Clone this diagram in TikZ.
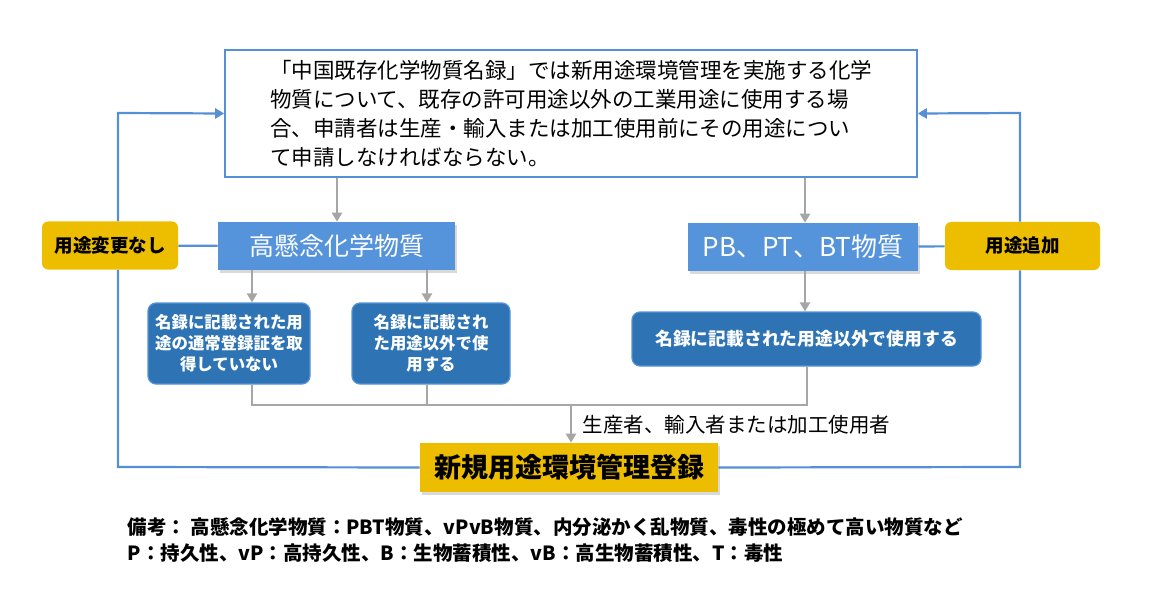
\documentclass[tikz,border=0pt]{standalone}
\usepackage{fontspec}
\setmainfont{Noto Sans CJK JP}
\XeTeXlinebreaklocale "ja"
\usetikzlibrary{positioning,shadows,arrows.meta}
\definecolor{frameblue}{HTML}{5590D6}
\definecolor{lightblue}{HTML}{5593DB}
\definecolor{darkblue}{HTML}{2E74B5}
\definecolor{goldbox}{HTML}{EDBE00}
\definecolor{flowgray}{HTML}{A6A6A6}
\begin{document}
\begin{tikzpicture}[x=1pt,y=-1pt,
    semithick,
    topbox/.style={draw=frameblue,line width=1.6pt,fill=white,
      minimum width=692pt,minimum height=127pt,align=left,font=\fontsize{21.5}{29}\selectfont,inner xsep=11pt},
    headbox/.style={fill=lightblue,text=white,minimum height=48pt,
      font=\fontsize{25}{28}\selectfont,drop shadow={opacity=0.3,shadow xshift=2pt,shadow yshift=-3pt}},
    subbox/.style={fill=darkblue,draw=lightblue,line width=1.2pt,rounded corners=8pt,text=white,
      align=center,font=\bfseries\fontsize{16.4}{21}\selectfont},
    tagbox/.style={fill=goldbox,rounded corners=6pt,minimum height=48pt,font=\bfseries\fontsize{18.5}{22}\selectfont},
    loop/.style={draw=frameblue,line width=2.2pt},
    flow/.style={draw=flowgray,line width=2.6pt},
    tip/.style={-{Triangle[length=9pt,width=10pt]}}
    ]
\useasboundingbox (0,0) rectangle (1159,604);
\node[topbox] (req) at (571,113.5) {「中国既存化学物質名録」では新用途環境管理を実施する化学\\物質について、既存の許可用途以外の工業用途に使用する場\\合、申請者は生産・輸入または加工使用前にその用途につい\\て申請しなければならない。};
\node[headbox,minimum width=237pt] (hc) at (336.5,246) {高懸念化学物質};
\node[headbox,minimum width=230pt,font=\fontsize{26}{28}\selectfont] (pb) at (803,247) {PB、PT、BT物質};
\node[tagbox,minimum width=136pt] (nochg) at (110,245.5) {用途変更なし};
\node[tagbox,minimum width=155pt] (add) at (1022.5,246) {用途追加};
\node[subbox,minimum width=162pt,minimum height=81pt] (ua) at (229,343.5) {名録に記載された用\\途の通常登録証を取\\得していない};
\node[subbox,minimum width=158pt,minimum height=81pt] (ub) at (431,343.5) {名録に記載され\\た用途以外で使\\用する};
\node[subbox,minimum width=349pt,minimum height=54pt,font=\bfseries\fontsize{17.8}{21}\selectfont] (uc) at (806.5,339) {名録に記載された用途以外で使用する};
\node[tagbox,rounded corners=0pt,minimum width=298pt,minimum height=49pt,
  font=\bfseries\fontsize{27}{30}\selectfont,drop shadow={opacity=0.3,shadow xshift=2pt,shadow yshift=-3pt}] (reg) at (569,467.5) {新規用途環境管理登録};
\coordinate (join) at (571,405);
\node[anchor=west,font=\fontsize{20.5}{22}\selectfont] (who) at (579,425) {生産者、輸入者または加工使用者};
\node[anchor=north west,align=left,font=\bfseries\fontsize{19.5}{26}\selectfont] (note) at (124,514)
  {備考：\ 高懸念化学物質：PBT物質、vPvB物質、内分泌かく乱物質、毒性の極めて高い物質など\\P：持久性、vP：高持久性、B：生物蓄積性、vB：高生物蓄積性、T：毒性};
% feedback loops
\draw[loop,tip] (nochg.north -| 118,0) -- (118,113) -- (req.west);
\draw[loop] (nochg.south -| 118,0) -- (118,467) -- (reg.west);
\draw[loop,tip] (add.north -| 1020,0) -- (1020,113) -- (req.east);
\draw[loop] (add.south -| 1020,0) -- (1020,467) -- (reg.east);
\draw[loop] (nochg) -- (hc);
\draw[loop] (pb) -- (add);
% flow
\draw[flow,tip] (req.south -| 337,0) -- (hc.north -| 337,0);
\draw[flow,tip] (req.south -| 805,0) -- (pb.north -| 805,0);
\draw[flow,tip] (hc.south -| 252,0) -- (ua.north -| 252,0);
\draw[flow,tip] (hc.south -| 427,0) -- (ub.north -| 427,0);
\draw[flow,tip] (pb.south -| 805,0) -- (uc.north -| 805,0);
\draw[flow] (ua.south -| 252,0) -- (252,405) -- (807,405) -- (uc.south -| 807,0);
\draw[flow] (ub.south -| 427,0) -- (427,405);
\draw[flow,tip] (join) -- (reg.north -| join);
\end{tikzpicture}
\end{document}
